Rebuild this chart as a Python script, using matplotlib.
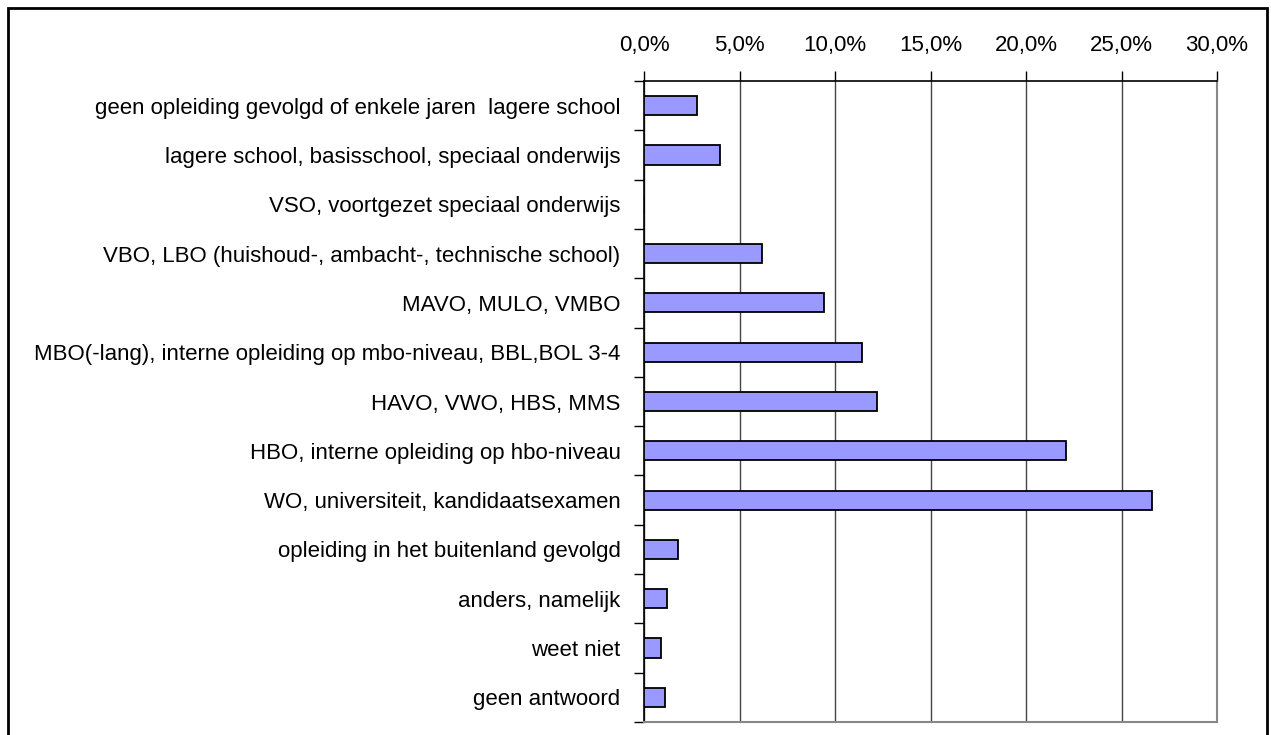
import matplotlib.pyplot as plt
import numpy as np
from matplotlib.patches import Rectangle
from matplotlib.ticker import FuncFormatter

plt.rcParams['font.family'] = ['Liberation Sans', 'DejaVu Sans']

categories = [
    "geen opleiding gevolgd of enkele jaren  lagere school",
    "lagere school, basisschool, speciaal onderwijs",
    "VSO, voortgezet speciaal onderwijs",
    "VBO, LBO (huishoud-, ambacht-, technische school)",
    "MAVO, MULO, VMBO",
    "MBO(-lang), interne opleiding op mbo-niveau, BBL,BOL 3-4",
    "HAVO, VWO, HBS, MMS",
    "HBO, interne opleiding op hbo-niveau",
    "WO, universiteit, kandidaatsexamen",
    "opleiding in het buitenland gevolgd",
    "anders, namelijk",
    "weet niet",
    "geen antwoord",
]
values = [2.8, 4.0, 0.0, 6.2, 9.4, 11.4, 12.2, 22.1, 26.6, 1.8, 1.2, 0.9, 1.1]
xticks = [0, 5, 10, 15, 20, 25, 30]

fig = plt.figure(figsize=(12.71, 7.35), dpi=100)
ax = fig.add_axes([644 / 1271, 1 - 722 / 735, 573 / 1271, 641 / 735])

y = np.arange(len(categories))
ax.barh(y, values, height=0.39, color="#9999FF", edgecolor="black", linewidth=1.3, zorder=3)

ax.set_xlim(0, 30)
ax.set_ylim(len(categories) - 0.5, -0.5)
ax.set_xticks(xticks)
ax.xaxis.set_major_formatter(FuncFormatter(lambda v, p: f"{v:.1f}%".replace(".", ",")))
ax.xaxis.tick_top()
ax.tick_params(axis="x", length=7, width=1, labelsize=16, pad=11)
ax.grid(axis="x", color="#444444", linewidth=1, zorder=0)

ax.set_yticks(y)
ax.set_yticklabels(categories)
ax.set_yticks(np.arange(len(categories) + 1) - 0.5, minor=True)
ax.tick_params(axis="y", which="major", length=0, labelsize=16, pad=17)
ax.tick_params(axis="y", which="minor", length=7, width=1)

for side in ["right", "bottom"]:
    ax.spines[side].set_color("#888888")
    ax.spines[side].set_linewidth(1.5)
ax.spines["top"].set_linewidth(1.2)
ax.spines["left"].set_linewidth(1.2)

# outer border of the chart
fig.patches.append(Rectangle((8 / 1271, -0.1), 1259 / 1271, 1.1 - 8 / 735,
                             transform=fig.transFigure, fill=False,
                             edgecolor="black", linewidth=2))

fig.savefig("out.png", dpi=100)
